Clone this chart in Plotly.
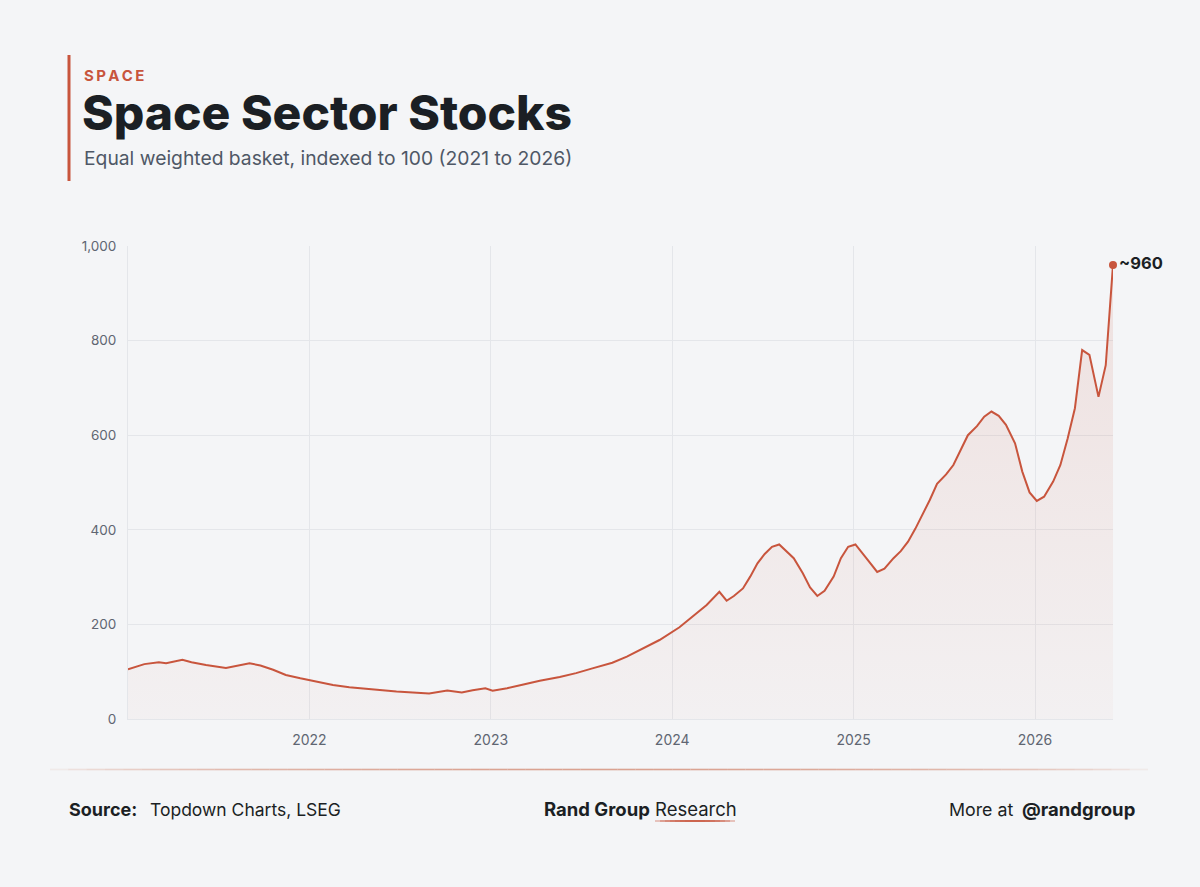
import plotly.graph_objects as go

# ---- data (fractional year, index level) ----
years = [
    2021.00, 2021.09, 2021.17, 2021.21, 2021.30, 2021.35, 2021.43, 2021.54, 2021.67, 2021.73,
    2021.80, 2021.87, 2021.95, 2022.04, 2022.13, 2022.22, 2022.33, 2022.39, 2022.48, 2022.57,
    2022.66, 2022.76, 2022.84, 2022.90, 2022.97, 2023.01, 2023.09, 2023.18, 2023.27, 2023.38,
    2023.47, 2023.56, 2023.67, 2023.75, 2023.84, 2023.93, 2024.04, 2024.11, 2024.19, 2024.26,
    2024.30, 2024.34, 2024.39, 2024.43, 2024.47, 2024.51, 2024.55, 2024.59, 2024.63, 2024.67,
    2024.72, 2024.76, 2024.80, 2024.84, 2024.89, 2024.93, 2024.97, 2025.01, 2025.07, 2025.13,
    2025.17, 2025.22, 2025.26, 2025.30, 2025.34, 2025.38, 2025.42, 2025.46, 2025.51, 2025.55,
    2025.59, 2025.63, 2025.68, 2025.72, 2025.76, 2025.80, 2025.84, 2025.89, 2025.93, 2025.97,
    2026.01, 2026.05, 2026.10, 2026.14, 2026.18, 2026.22, 2026.26, 2026.30, 2026.35, 2026.39,
    2026.43,
]
index_values = [
    105, 116, 120, 118, 125, 120, 114, 108, 118, 113,
    104, 93, 86, 79, 72, 67, 63, 62, 58, 56,
    54, 60, 56, 61, 65, 60, 65, 73, 81, 89,
    97, 107, 119, 132, 149, 167, 194, 216, 241, 269,
    250, 260, 276, 301, 329, 349, 364, 369, 354, 340,
    308, 278, 260, 271, 301, 340, 364, 369, 340, 311,
    318, 340, 355, 375, 402, 431, 463, 497, 517, 537,
    569, 600, 619, 639, 650, 641, 622, 583, 523, 479,
    461, 470, 502, 537, 593, 657, 780, 770, 681, 748,
    960,
]
x_tick_vals = [2022, 2023, 2024, 2025, 2026]
x_tick_text = ["2022", "2023", "2024", "2025", "2026"]
y_tick_vals = [0, 200, 400, 600, 800, 1000]
y_tick_text = ["0", "200", "400", "600", "800", "1,000"]
end_label = "~960"

ACCENT = "#c8553d"
BG = "#f4f5f7"
DARK = "#1b1f24"
GRAY = "#5f6672"
FONT = "Inter"

W, H = 1200, 887
L, R, T, B = 128, 87, 246, 168
PW, PH = W - L - R, H - T - B


def px(xp):
    return (xp - L) / PW


def py(yp):
    return (H - B - yp) / PH


fig = go.Figure()
fig.add_trace(go.Scatter(
    x=years, y=index_values, mode="lines",
    line=dict(color=ACCENT, width=2),
    fill="tozeroy",
    fillgradient=dict(type="vertical",
                      colorscale=[[0, "rgba(200,85,61,0.03)"], [1, "rgba(200,85,61,0.13)"]]),
    hoverinfo="skip", showlegend=False,
))
fig.add_trace(go.Scatter(
    x=[years[-1]], y=[index_values[-1]], mode="markers+text",
    marker=dict(color=ACCENT, size=8),
    text=["<b>" + end_label + "</b>"], textposition="middle right",
    textfont=dict(family=FONT, size=16.5, color=DARK),
    cliponaxis=False, hoverinfo="skip", showlegend=False,
))

shapes = []
# header accent bar
shapes.append(dict(type="line", xref="paper", yref="paper",
                   x0=px(69), x1=px(69), y0=py(55), y1=py(181),
                   line=dict(color=ACCENT, width=3)))
# footer divider gradient line
n = 60
x_start, x_end = 50, 1148
for i in range(n):
    a = x_start + (x_end - x_start) * i / n
    b = x_start + (x_end - x_start) * (i + 1) / n
    t = (i + 0.5) / n
    op = min(1.0, 4 * t * (1 - t)) ** 0.6 * 0.8
    shapes.append(dict(type="line", xref="paper", yref="paper",
                       x0=px(a), x1=px(b), y0=py(769.5), y1=py(769.5),
                       line=dict(color="#d48e78", width=1.6), opacity=op))
# underline under "Research"
m = 16
for i in range(m):
    a = 655 + 80 * i / m
    b = 655 + 80 * (i + 1) / m
    t = (i + 0.5) / m
    op = min(1.0, 4 * t * (1 - t)) ** 0.5 * 0.9
    shapes.append(dict(type="line", xref="paper", yref="paper",
                       x0=px(a), x1=px(b), y0=py(821), y1=py(821),
                       line=dict(color=ACCENT, width=2), opacity=op))

annotations = [
    dict(text="<b>S\u2009P\u2009A\u2009C\u2009E</b>", x=px(82), y=py(76), xanchor="left", yanchor="middle",
         font=dict(family=FONT, size=15, color=ACCENT)),
    dict(text="Space Sector Stocks", x=px(80), y=py(113), xanchor="left", yanchor="middle",
         font=dict(family=FONT, size=48, color=DARK, weight=800)),
    dict(text="Equal weighted basket, indexed to 100 (2021 to 2026)", x=px(82), y=py(158),
         xanchor="left", yanchor="middle", font=dict(family=FONT, size=19.3, color="#4f5866")),
    dict(text="<b>Source:</b>", x=px(67), y=py(809), xanchor="left", yanchor="middle",
         font=dict(family=FONT, size=18, color=DARK)),
    dict(text="Topdown Charts, LSEG", x=px(148), y=py(809), xanchor="left", yanchor="middle",
         font=dict(family=FONT, size=17.5, color=DARK)),
    dict(text="<b>Rand Group</b> Research", x=px(640), y=py(809), xanchor="center", yanchor="middle",
         font=dict(family=FONT, size=18.5, color=DARK)),
    dict(text="More at", x=px(947), y=py(809), xanchor="left", yanchor="middle",
         font=dict(family=FONT, size=17.8, color=DARK)),
    dict(text="<b>@randgroup</b>", x=px(1137), y=py(809), xanchor="right", yanchor="middle",
         font=dict(family=FONT, size=18.5, color=DARK)),
]
for a in annotations:
    a.update(xref="paper", yref="paper", showarrow=False)

fig.update_layout(
    width=W, height=H,
    margin=dict(l=L, r=R, t=T, b=B),
    paper_bgcolor=BG, plot_bgcolor=BG,
    font=dict(family=FONT, color=GRAY, size=13.5),
    shapes=shapes, annotations=annotations,
    showlegend=False,
    xaxis=dict(range=[2021.0, 2026.43], tickvals=x_tick_vals, ticktext=x_tick_text,
               showgrid=True, gridcolor="#e4e6ea", gridwidth=1, zeroline=False,
               showline=True, linecolor="#e4e6ea", mirror=False,
               ticks="", tickfont=dict(size=14, color=GRAY), ticklabelstandoff=8),
    yaxis=dict(range=[0, 1000], tickvals=y_tick_vals, ticktext=y_tick_text,
               showgrid=True, gridcolor="#e4e6ea", gridwidth=1, zeroline=False,
               showline=True, linecolor="#e4e6ea",
               ticks="", tickfont=dict(size=13.5, color=GRAY), ticklabelstandoff=8),
)

fig.write_html("out.html")
